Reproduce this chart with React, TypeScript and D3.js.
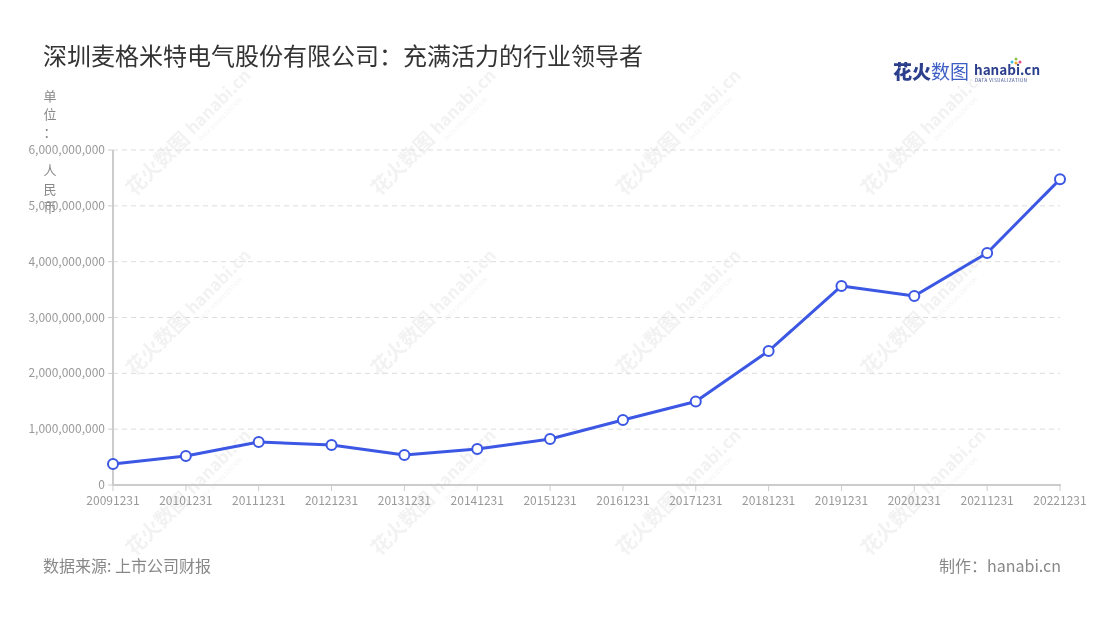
import React from "react";
import * as d3 from "d3";

const categories = ["20091231","20101231","20111231","20121231","20131231","20141231","20151231","20161231","20171231","20181231","20191231","20201231","20211231","20221231"];
const revenue = [376000000, 520000000, 770000000, 716000000, 537000000, 645000000, 824000000, 1164000000, 1496000000, 2400000000, 3565000000, 3385000000, 4155000000, 5475000000];
const yTicks = [0, 1000000000, 2000000000, 3000000000, 4000000000, 5000000000, 6000000000];
const unitChars = ["单", "位", "：", "人", "民", "币"];
const unitY = [96, 114, 132, 170, 189, 207];

const W = 1100, H = 620;
const FONT = "'Noto Sans CJK SC', 'Noto Sans', sans-serif";

export default function App() {
  const x = d3.scalePoint<string>().domain(categories).range([113, 1060]);
  const y = d3.scaleLinear().domain([0, 6000000000]).range([485, 150]);
  const line = d3.line<number>().x((_, i) => x(categories[i])!).y(d => y(d));
  const fmt = d3.format(",");

  const wmCols = [150, 395, 640, 885];
  const wmRows = [170, 350, 530];

  return (
    <svg width={W} height={H} style={{ position: "absolute", left: 0, top: 0, background: "#fff" }} fontFamily={FONT}>
      <rect width={W} height={H} fill="#fff" />
      {/* watermarks */}
      <g opacity={0.07}>
        {wmRows.map(r => wmCols.map(c => (
          <g key={`${r}-${c}`} transform={`translate(${c},${r}) rotate(-45)`}>
            <text x={-30} y={8} fontSize={20} fontWeight={700} fill="#444">花火数图</text>
            <text x={55} y={6} fontSize={17} fontWeight={700} fill="#444">hanabi.cn</text>
            <text x={57} y={16} fontSize={6} fill="#444">DATA VISUALIZATION</text>
          </g>
        )))}
      </g>

      {/* title */}
      <text x={43} y={65} fontSize={24} fill="#333">深圳麦格米特电气股份有限公司：充满活力的行业领导者</text>

      {/* logo */}
      <g>
        <text x={893} y={79} fontSize={19} fontWeight={900} fill="#2b3f8c">花火</text>
        <text x={931} y={79} fontSize={19} fill="#3d5fc4">数图</text>
        <text x={974} y={75} fontSize={13.5} fontWeight={700} fill="#2b3f8c">hanabi.cn</text>
        <text x={975} y={82} fontSize={4.3} fill="#2b3f8c" letterSpacing={0.6}>DATA VISUALIZATION</text>
        <circle cx={1016} cy={63} r={1.5} fill="#f5a623" />
        <circle cx={1020} cy={62} r={1.5} fill="#e84c8b" />
        <circle cx={1012} cy={62} r={1.5} fill="#3cc3e0" />
        <circle cx={1016} cy={59} r={1.5} fill="#8bc34a" />
      </g>

      {/* unit label */}
      {unitChars.map((c, i) => (
        <text key={i} x={50} y={unitY[i] + 5} fontSize={13} fill="#888" textAnchor="middle">{c}</text>
      ))}

      {/* grid */}
      {yTicks.filter(t => t > 0).map(t => (
        <line key={t} x1={113} x2={1060} y1={y(t)} y2={y(t)} stroke="#ddd" strokeDasharray="5,4" />
      ))}

      {/* y axis */}
      <line x1={113} x2={113} y1={150} y2={486} stroke="#ccc" strokeWidth={2} />
      {yTicks.map(t => (
        <g key={t}>
          <line x1={108} x2={113} y1={y(t)} y2={y(t)} stroke="#ccc" />
          <text x={105} y={y(t) + 4} fontSize={12} fill="#999" textAnchor="end">{fmt(t)}</text>
        </g>
      ))}

      {/* x axis */}
      <line x1={112} x2={1061} y1={485} y2={485} stroke="#ccc" strokeWidth={2} />
      {categories.map(c => (
        <g key={c}>
          <line x1={x(c)} x2={x(c)} y1={485} y2={491} stroke="#ccc" />
          <text x={x(c)} y={505} fontSize={12} fill="#999" textAnchor="middle">{c}</text>
        </g>
      ))}

      {/* line */}
      <path d={line(revenue)!} fill="none" stroke="#3b57e3" strokeWidth={3} strokeLinejoin="round" />
      {revenue.map((v, i) => (
        <circle key={i} cx={x(categories[i])} cy={y(v)} r={5} fill="#fff" stroke="#3b57e3" strokeWidth={2} />
      ))}

      {/* footer */}
      <text x={43} y={572} fontSize={16} fill="#888">数据来源: 上市公司财报</text>
      <text x={1061} y={572} fontSize={16} fill="#888" textAnchor="end">制作：hanabi.cn</text>
    </svg>
  );
}
